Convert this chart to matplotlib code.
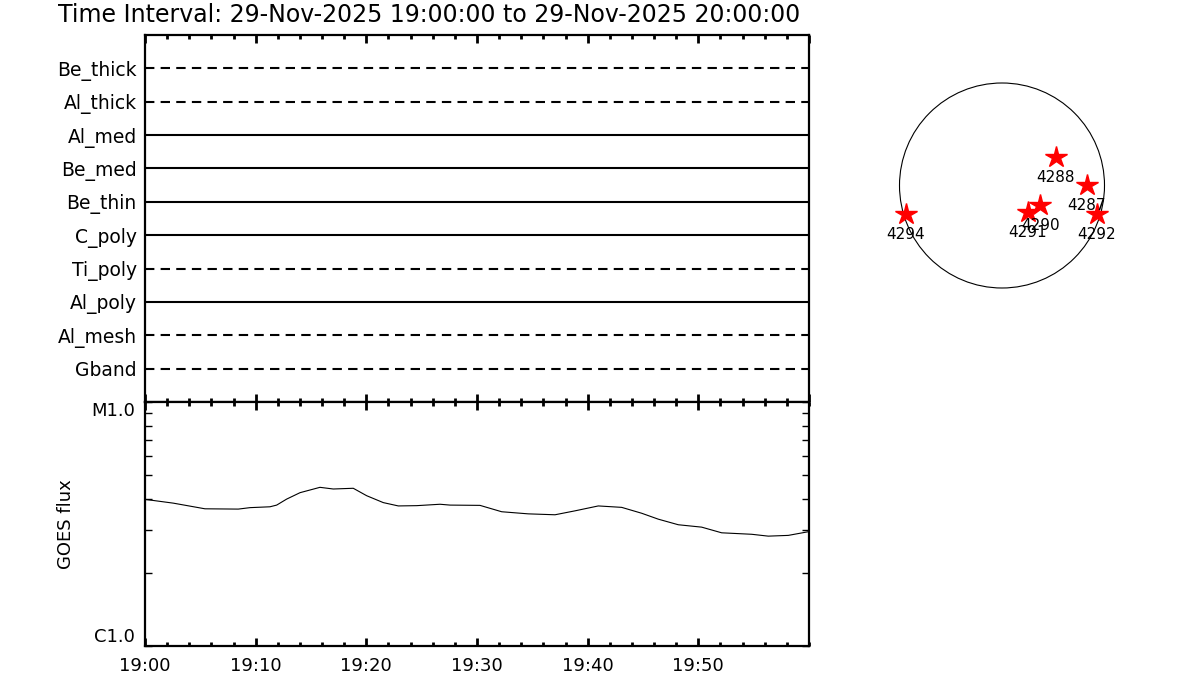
import numpy as np
import matplotlib
matplotlib.use("AGG")
import matplotlib.pyplot as plt
from matplotlib.ticker import FixedLocator, MultipleLocator, NullFormatter
from matplotlib.patches import Circle

title = "Time Interval: 29-Nov-2025 19:00:00 to 29-Nov-2025 20:00:00"

# filter status panel (bottom to top)
filters = ["Gband", "Al_mesh", "Al_poly", "Ti_poly", "C_poly",
           "Be_thin", "Be_med", "Al_med", "Al_thick", "Be_thick"]
dashed = [True, True, False, True, False, False, False, False, True, True]

# GOES flux, minutes after 19:00, flux in units of 1e-6 W/m^2
goes_min = [0.0, 2.56, 5.42, 8.43, 9.49, 11.29, 11.90, 12.80, 14.01, 15.81,
            17.01, 18.82, 20.03, 21.53, 22.89, 24.55, 26.66, 27.56, 30.27, 32.23,
            34.63, 37.05, 38.85, 40.96, 43.07, 44.88, 46.38, 48.19, 50.30, 52.11,
            54.82, 56.32, 58.13, 59.94]
goes_flux = [3.99, 3.85, 3.65, 3.64, 3.69, 3.72, 3.78, 4.00, 4.25, 4.47,
             4.40, 4.43, 4.13, 3.87, 3.75, 3.76, 3.81, 3.78, 3.77, 3.55,
             3.48, 3.45, 3.58, 3.75, 3.70, 3.50, 3.31, 3.14, 3.07, 2.91,
             2.87, 2.82, 2.84, 2.94]
time_ticks = [0, 10, 20, 30, 40, 50]
time_labels = ["19:00", "19:10", "19:20", "19:30", "19:40", "19:50"]

# active regions on the disk (arcsec)
ar_num = ["4288", "4287", "4290", "4291", "4292", "4294"]
ar_x = [509, 803, 363, 244, 901, -910]
ar_y = [267, 5, -185, -254, -273, -270]
rsun = 972.0

plt.rcParams["font.family"] = "DejaVu Sans"
fig = plt.figure(figsize=(12, 7), dpi=100)
fig.text(58 / 1200, 1 - 15 / 700, title, fontsize=17, va="center", ha="left")

# --- filter panel
ax1 = fig.add_axes([145 / 1200, 1 - 402 / 700, 664 / 1200, 367 / 700])
for i, name in enumerate(filters):
    ls = (0, (4.5, 3)) if dashed[i] else "-"
    ax1.plot([0, 60], [i + 1, i + 1], color="black", lw=1.5, ls=ls)
ax1.set_xlim(0, 60)
ax1.set_ylim(0, len(filters) + 1)
ax1.set_yticks(np.arange(1, len(filters) + 1), filters)
ax1.tick_params(axis="y", length=0, pad=6, labelsize=13.5)
ax1.xaxis.set_major_locator(MultipleLocator(10))
ax1.xaxis.set_minor_locator(MultipleLocator(2))
ax1.xaxis.set_major_formatter(NullFormatter())
ax1.tick_params(axis="x", which="major", direction="in", top=True, bottom=True,
                length=6, width=2)
ax1.tick_params(axis="x", which="minor", direction="in", top=True, bottom=True,
                length=3, width=2)

# --- GOES panel
ax2 = fig.add_axes([145 / 1200, 1 - 646 / 700, 664 / 1200, 244 / 700])
ax2.plot(goes_min, np.array(goes_flux) * 1e-6, color="black", lw=0.8)
ax2.set_yscale("log")
ax2.set_ylim(1e-6, 1e-5)
ax2.set_xlim(0, 60)
ax2.yaxis.set_major_locator(FixedLocator([1e-6, 1e-5]))
ax2.set_yticklabels(["C1.0", "M1.0"])
ax2.yaxis.set_minor_locator(FixedLocator(np.arange(2, 10) * 1e-6))
ax2.yaxis.set_minor_formatter(NullFormatter())
ax2.tick_params(axis="y", which="both", direction="in", left=True, right=True,
                length=5, width=1, labelsize=13, pad=7)
ylabs = ax2.get_yticklabels()
ylabs[0].set_va("bottom")
ylabs[1].set_va("top")
ax2.set_xticks(time_ticks, time_labels)
ax2.xaxis.set_minor_locator(MultipleLocator(2))
ax2.tick_params(axis="x", which="major", direction="in", top=True, bottom=True,
                length=6, width=2, labelsize=13, pad=8)
ax2.tick_params(axis="x", which="minor", direction="in", top=True, bottom=True,
                length=3, width=2)
ax2.set_ylabel("GOES flux", fontsize=13)
ax2.yaxis.set_label_coords(-0.105, 0.5)

for ax in (ax1, ax2):
    for sp in ax.spines.values():
        sp.set_linewidth(1.6)

# --- solar disk with active regions
axm = fig.add_axes([886 / 1200, 1 - 301.5 / 700, 232 / 1200, 232 / 700])
axm.add_patch(Circle((0, 0), rsun, fill=False, color="black", lw=0.8))
axm.plot(ar_x, ar_y, "*", color="red", ms=16, mec="red")
for n, x, y in zip(ar_num, ar_x, ar_y):
    axm.annotate(n, (x, y), xytext=(0, -14.5), textcoords="offset points",
                 ha="center", va="center", fontsize=11)
axm.set_xlim(-1100, 1100)
axm.set_ylim(-1100, 1100)
axm.set_aspect("equal")
axm.axis("off")

plt.savefig("out.png", dpi=100)
